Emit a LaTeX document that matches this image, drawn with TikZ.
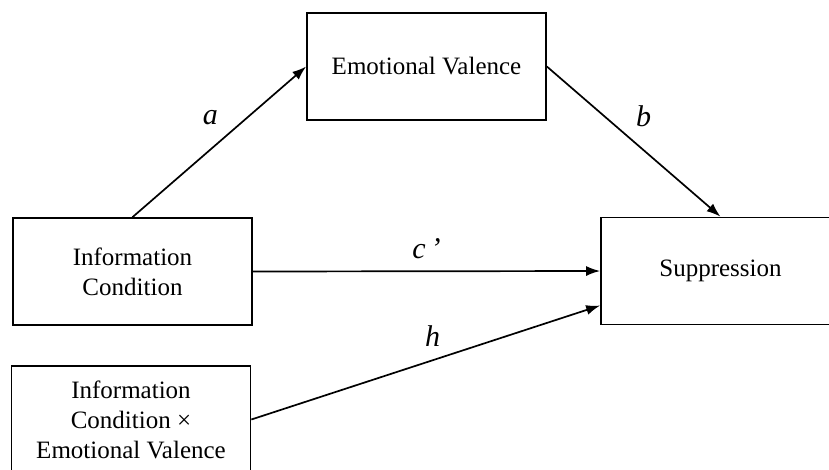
\documentclass[tikz,border=0pt]{standalone}
\usepackage{fontspec}
\setmainfont{Liberation Serif}
\usetikzlibrary{arrows.meta}

\begin{document}
\begin{tikzpicture} [x=1pt, y=-1pt, align=center,
	box/.style={draw, line width=1.7pt, minimum width=239pt, minimum height=107pt, inner sep=0pt, font=\fontsize{25}{30}\selectfont},
	link/.style={-{Latex[length=14pt, width=10pt]}, line width=1.7pt},
	lab/.style={inner sep=0pt, font=\fontsize{30}{30}\selectfont\itshape}]
\useasboundingbox (0,0) rectangle (829,469);
\clip (0,0) rectangle (829,469);

\path (426.5,66.5) node[box] (val) {Emotional Valence}
	  (132.5,271.5) node[box] (info) {Information\\Condition}
	  (720.5,271) node[box] (supp) {Suppression}
	  (131,419.5) node[box] (inter) {Information\\Condition ×\\Emotional Valence};

\draw[link] (info.north) to node [lab, pos=.54, xshift=-16pt, yshift=18pt] {a} (val.west);
\draw[link] (val.east) to node [lab, pos=.46, xshift=17pt, yshift=19pt] {b} (supp.north);
\draw[link] (info.east) to node [lab, pos=.5, yshift=23pt] {c\,’} (supp.west);
\draw[link] (inter.east) to node [lab, pos=.54, xshift=-7pt, yshift=22pt] {h} (supp.196);
\end{tikzpicture}
\end{document}
